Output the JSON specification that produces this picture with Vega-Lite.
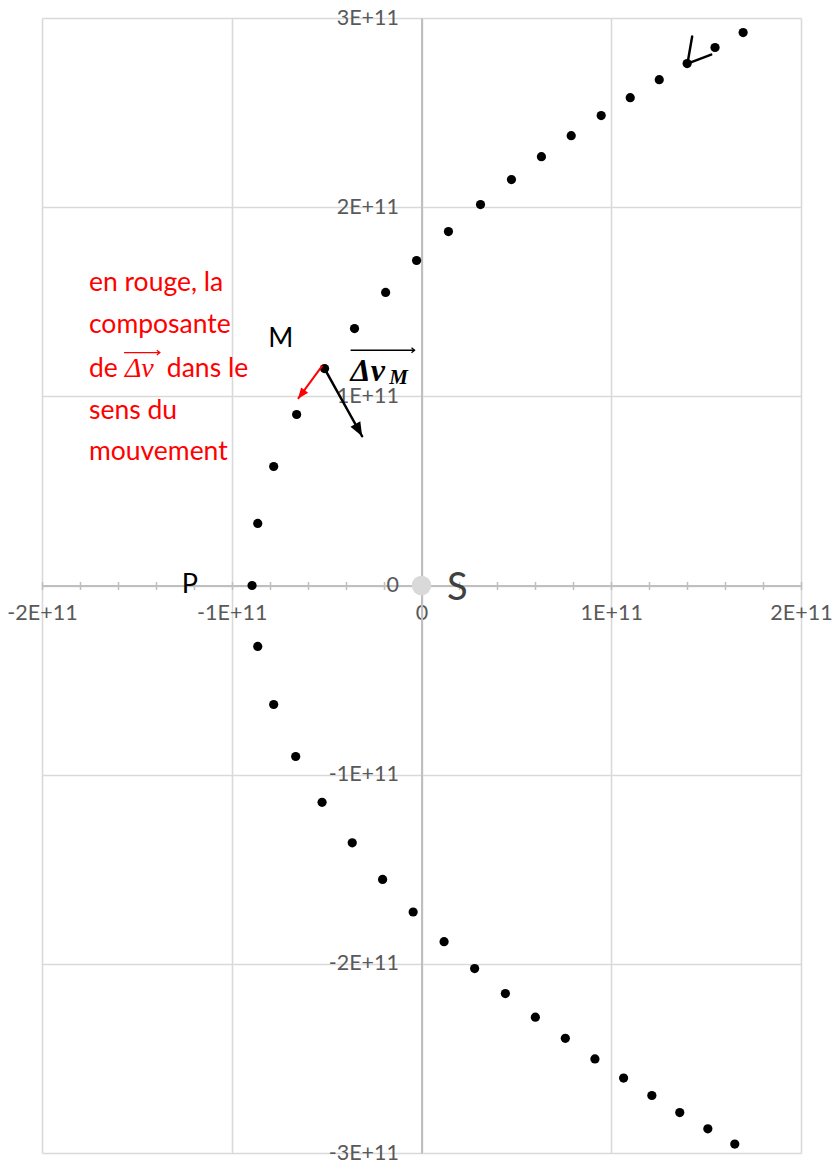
{
  "$schema": "https://vega.github.io/schema/vega-lite/v6.json",
  "width": 759,
  "height": 1135,
  "autosize": "none",
  "padding": {"left": 42, "top": 18, "right": 31, "bottom": 7},
  "background": "white",
  "config": {"view": {"stroke": null}},
  "datasets": {
    "orbit": [
      {"x": -8.93e10, "y": 0},
      {"x": -8.63e10, "y": 3.28e10},
      {"x": -7.79e10, "y": 6.29e10},
      {"x": -6.58e10, "y": 9.04e10},
      {"x": -5.11e10, "y": 1.147e11},
      {"x": -3.53e10, "y": 1.358e11},
      {"x": -1.89e10, "y": 1.549e11},
      {"x": -2.6e9, "y": 1.718e11},
      {"x": 1.42e10, "y": 1.871e11},
      {"x": 3.11e10, "y": 2.014e11},
      {"x": 4.74e10, "y": 2.146e11},
      {"x": 6.32e10, "y": 2.267e11},
      {"x": 7.89e10, "y": 2.378e11},
      {"x": 9.47e10, "y": 2.484e11},
      {"x": 1.1e11, "y": 2.579e11},
      {"x": 1.253e11, "y": 2.674e11},
      {"x": 1.4e11, "y": 2.759e11},
      {"x": 1.547e11, "y": 2.844e11},
      {"x": 1.695e11, "y": 2.923e11},
      {"x": -8.63e10, "y": -3.22e10},
      {"x": -7.79e10, "y": -6.29e10},
      {"x": -6.63e10, "y": -9.04e10},
      {"x": -5.24e10, "y": -1.146e11},
      {"x": -3.65e10, "y": -1.36e11},
      {"x": -2.05e10, "y": -1.554e11},
      {"x": -4.4e9, "y": -1.726e11},
      {"x": 1.19e10, "y": -1.883e11},
      {"x": 2.8e10, "y": -2.025e11},
      {"x": 4.42e10, "y": -2.157e11},
      {"x": 6.0e10, "y": -2.282e11},
      {"x": 7.58e10, "y": -2.394e11},
      {"x": 9.14e10, "y": -2.503e11},
      {"x": 1.065e11, "y": -2.604e11},
      {"x": 1.214e11, "y": -2.696e11},
      {"x": 1.361e11, "y": -2.786e11},
      {"x": 1.509e11, "y": -2.872e11},
      {"x": 1.651e11, "y": -2.953e11}
    ],
    "sun": [{"x": 0, "y": 0}],
    "blackSegs": [
      {"x": -5.11e10, "y": 1.147e11, "x2": -3.13e10, "y2": 7.89e10},
      {"x": 1.4016e11, "y": 2.759e11, "x2": 1.4263e11, "y2": 2.9017e11},
      {"x": 1.4016e11, "y": 2.759e11, "x2": 1.5266e11, "y2": 2.8066e11}
    ],
    "blackHead": [{"x": -3.13e10, "y": 7.89e10}],
    "redSegs": [{"x": -5.226e10, "y": 1.1628e11, "x2": -6.51e10, "y2": 9.87e10}],
    "redHead": [{"x": -6.51e10, "y": 9.87e10}],
    "overArrows": [
      {"x": -3.737e10, "y": 1.2437e11, "x2": -3.68e9, "y2": 1.2437e11}
    ],
    "overHeads": [{"x": -3.68e9, "y": 1.2437e11}],
    "redOver": [{"x": -1.568e11, "y": 1.2315e11, "x2": -1.379e11, "y2": 1.2315e11}],
    "redOverHead": [{"x": -1.379e11, "y": 1.2315e11}],
    "redText": [
      {"x": -1.7526e11, "y": 1.6015e11, "t": "en rouge, la"},
      {"x": -1.7526e11, "y": 1.3795e11, "t": "composante"},
      {"x": -1.7526e11, "y": 1.1469e11, "t": "de"},
      {"x": -1.342e11, "y": 1.1469e11, "t": "dans le"},
      {"x": -1.7526e11, "y": 9.249e10, "t": "sens du"},
      {"x": -1.7526e11, "y": 7.082e10, "t": "mouvement"}
    ],
    "redDelta": [{"x": -1.563e11, "y": 1.1469e11, "t": "Δv"}],
    "pointLabels": [
      {"x": -7.42e10, "y": 1.3055e11, "t": "M"},
      {"x": -1.221e11, "y": 5e8, "t": "P"}
    ],
    "sunLabel": [{"x": 1.89e10, "y": -1.6e9, "t": "S"}],
    "dvText": [{"x": -3.737e10, "y": 1.0835e11, "t": "Δv"}],
    "dvSub": [{"x": -1.7e10, "y": 1.0677e11, "t": "M"}]
  },
  "resolve": {"axis": {"x": "independent"}},
  "layer": [
    {
      "data": {"name": "sun"},
      "mark": {"type": "circle", "size": 380, "color": "#d9d9d9", "opacity": 1},
      "encoding": {
        "x": {"field": "x", "type": "quantitative", "scale": {"domain": [-2e11, 2e11], "nice": false, "zero": false},
          "axis": {"orient": "top", "offset": -567.5, "title": null, "labels": false, "domain": false, "grid": false,
            "values": [-2e11,-1.8e11,-1.6e11,-1.4e11,-1.2e11,-1e11,-8e10,-6e10,-4e10,-2e10,0,2e10,4e10,6e10,8e10,1e11,1.2e11,1.4e11,1.6e11,1.8e11,2e11],
            "tickSize": 4, "tickColor": "#bfbfbf", "tickWidth": 1.5}},
        "y": {"field": "y", "type": "quantitative", "scale": {"domain": [-3e11, 3e11], "nice": false, "zero": false},
          "axis": {"orient": "left", "offset": -379.5, "title": null,
            "values": [-3e11,-2e11,-1e11,0,1e11,2e11,3e11],
            "labelExpr": "datum.value == 0 ? '0' : (datum.value/1e11) + 'E+11'",
            "grid": true, "gridColor": "#d9d9d9", "gridWidth": 1.6,
            "ticks": false, "tickSize": 0, "domainColor": "#bfbfbf", "domainWidth": 2,
            "labelFont": "Lato", "labelFontSize": 21.5, "labelColor": "#595959", "labelPadding": 23,
            "labelOverlap": false, "labelFlush": false}}
      }
    },
    {
      "data": {"name": "orbit"},
      "mark": {"type": "circle", "size": 85, "color": "black", "opacity": 1},
      "encoding": {
        "x": {"field": "x", "type": "quantitative", "scale": {"domain": [-2e11, 2e11], "nice": false, "zero": false},
          "axis": {"orient": "bottom", "offset": -567.5, "title": null,
            "values": [-2e11,-1.8e11,-1.6e11,-1.4e11,-1.2e11,-1e11,-8e10,-6e10,-4e10,-2e10,0,2e10,4e10,6e10,8e10,1e11,1.2e11,1.4e11,1.6e11,1.8e11,2e11],
            "labelExpr": "abs(datum.value % 1e11) < 1 ? (datum.value == 0 ? '0' : (datum.value/1e11) + 'E+11') : ''",
            "grid": true, "gridColor": "#d9d9d9", "gridWidth": 1.6,
            "gridOpacity": {"condition": {"test": "abs(datum.value % 1e11) < 1", "value": 1}, "value": 0},
            "tickSize": 4, "tickColor": "#bfbfbf", "tickWidth": 1.5,
            "domainColor": "#bfbfbf", "domainWidth": 2,
            "labelFont": "Lato", "labelFontSize": 21.5, "labelColor": "#595959", "labelPadding": 13,
            "labelOverlap": false, "labelFlush": false}},
        "y": {"field": "y", "type": "quantitative"}
      }
    },
    {
      "data": {"name": "blackSegs"},
      "mark": {"type": "rule", "color": "black", "strokeWidth": 2.5, "strokeCap": "round"},
      "encoding": {
        "x": {"field": "x", "type": "quantitative", "axis": null},
        "y": {"field": "y", "type": "quantitative"},
        "x2": {"field": "x2"},
        "y2": {"field": "y2"}
      }
    },
    {
      "data": {"name": "blackHead"},
      "mark": {"type": "point", "shape": "M0,0L-2,-0.8L-2,0.8Z", "size": 196, "filled": true, "color": "black", "opacity": 1, "angle": 61.4},
      "encoding": {
        "x": {"field": "x", "type": "quantitative", "axis": null},
        "y": {"field": "y", "type": "quantitative"}
      }
    },
    {
      "data": {"name": "redSegs"},
      "mark": {"type": "rule", "color": "#ff0000", "strokeWidth": 2},
      "encoding": {
        "x": {"field": "x", "type": "quantitative", "axis": null},
        "y": {"field": "y", "type": "quantitative"},
        "x2": {"field": "x2"},
        "y2": {"field": "y2"}
      }
    },
    {
      "data": {"name": "redHead"},
      "mark": {"type": "point", "shape": "M0,0L-2,-0.8L-2,0.8Z", "size": 121, "filled": true, "color": "#ff0000", "opacity": 1, "angle": 127.3},
      "encoding": {
        "x": {"field": "x", "type": "quantitative", "axis": null},
        "y": {"field": "y", "type": "quantitative"}
      }
    },
    {
      "data": {"name": "overArrows"},
      "mark": {"type": "rule", "color": "black", "strokeWidth": 1.3},
      "encoding": {
        "x": {"field": "x", "type": "quantitative", "axis": null},
        "y": {"field": "y", "type": "quantitative"},
        "x2": {"field": "x2"},
        "y2": {"field": "y2"}
      }
    },
    {
      "data": {"name": "overHeads"},
      "mark": {"type": "point", "shape": "M-1,-0.8L0,0L-1,0.8", "size": 36, "filled": false, "color": "black", "strokeWidth": 1.3, "opacity": 1},
      "encoding": {
        "x": {"field": "x", "type": "quantitative", "axis": null},
        "y": {"field": "y", "type": "quantitative"}
      }
    },
    {
      "data": {"name": "redOver"},
      "mark": {"type": "rule", "color": "#ff0000", "strokeWidth": 1.3},
      "encoding": {
        "x": {"field": "x", "type": "quantitative", "axis": null},
        "y": {"field": "y", "type": "quantitative"},
        "x2": {"field": "x2"},
        "y2": {"field": "y2"}
      }
    },
    {
      "data": {"name": "redOverHead"},
      "mark": {"type": "point", "shape": "M-1,-0.8L0,0L-1,0.8", "size": 36, "filled": false, "color": "#ff0000", "strokeWidth": 1.3, "opacity": 1},
      "encoding": {
        "x": {"field": "x", "type": "quantitative", "axis": null},
        "y": {"field": "y", "type": "quantitative"}
      }
    },
    {
      "data": {"name": "redText"},
      "mark": {"type": "text", "font": "Lato", "fontSize": 26.5, "color": "#ff0000", "align": "left", "baseline": "middle"},
      "encoding": {
        "x": {"field": "x", "type": "quantitative", "axis": null},
        "y": {"field": "y", "type": "quantitative"},
        "text": {"field": "t"}
      }
    },
    {
      "data": {"name": "redDelta"},
      "mark": {"type": "text", "font": "Liberation Serif", "fontStyle": "italic", "fontSize": 28, "color": "#ff0000", "align": "left", "baseline": "middle"},
      "encoding": {
        "x": {"field": "x", "type": "quantitative", "axis": null},
        "y": {"field": "y", "type": "quantitative"},
        "text": {"field": "t"}
      }
    },
    {
      "data": {"name": "pointLabels"},
      "mark": {"type": "text", "font": "Lato", "fontSize": 27, "color": "black", "align": "center", "baseline": "middle"},
      "encoding": {
        "x": {"field": "x", "type": "quantitative", "axis": null},
        "y": {"field": "y", "type": "quantitative"},
        "text": {"field": "t"}
      }
    },
    {
      "data": {"name": "sunLabel"},
      "mark": {"type": "text", "font": "Lato", "fontSize": 38, "color": "#404040", "align": "center", "baseline": "middle"},
      "encoding": {
        "x": {"field": "x", "type": "quantitative", "axis": null},
        "y": {"field": "y", "type": "quantitative"},
        "text": {"field": "t"}
      }
    },
    {
      "data": {"name": "dvText"},
      "mark": {"type": "text", "font": "Liberation Serif", "fontStyle": "italic", "fontWeight": "bold", "fontSize": 32, "color": "black", "align": "left", "baseline": "alphabetic"},
      "encoding": {
        "x": {"field": "x", "type": "quantitative", "axis": null},
        "y": {"field": "y", "type": "quantitative"},
        "text": {"field": "t"}
      }
    },
    {
      "data": {"name": "dvSub"},
      "mark": {"type": "text", "font": "Liberation Serif", "fontStyle": "italic", "fontWeight": "bold", "fontSize": 21, "color": "black", "align": "left", "baseline": "alphabetic"},
      "encoding": {
        "x": {"field": "x", "type": "quantitative", "axis": null},
        "y": {"field": "y", "type": "quantitative"},
        "text": {"field": "t"}
      }
    }
  ]
}
